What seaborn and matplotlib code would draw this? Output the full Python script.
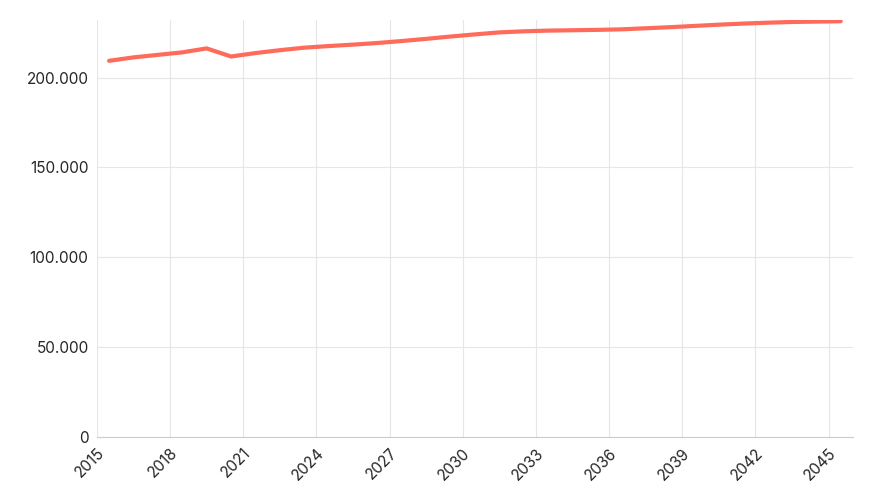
import matplotlib
matplotlib.use("Agg")
import matplotlib.pyplot as plt
import matplotlib.ticker as mticker
import seaborn as sns
import pandas as pd

years = [2015.5, 2016.5, 2017.5, 2018.5, 2019.5, 2020.5, 2021.5, 2022.5, 2023.5, 2024.5,
         2025.5, 2026.5, 2027.5, 2028.5, 2029.5, 2030.5, 2031.5, 2032.5, 2033.5, 2034.5,
         2035.5, 2036.5, 2037.5, 2038.5, 2039.5, 2040.5, 2041.5, 2042.5, 2043.5, 2044.5, 2045.5]
population = [209300, 211200, 212600, 214000, 216200, 211700, 213600, 215200, 216600, 217500,
              218300, 219200, 220300, 221500, 222800, 224000, 225100, 225700, 226100, 226300,
              226500, 226800, 227400, 228000, 228700, 229400, 230000, 230500, 230900, 231100, 231300]

df = pd.DataFrame({"year": years, "value": population})

sns.set_style("white")
plt.rcParams['font.family'] = ['Inter', 'DejaVu Sans']

fig, ax = plt.subplots(figsize=(8.73, 5.0), dpi=100)
fig.subplots_adjust(left=0.111, right=0.977, top=0.96, bottom=0.126)
sns.lineplot(data=df, x="year", y="value", color="#ff6b5a", linewidth=3, ax=ax)

ax.set_xlim(2015, 2046)
ax.set_ylim(0, 232000)
ax.set_xticks(range(2015, 2046, 3))
ax.set_yticks([0, 50000, 100000, 150000, 200000])
ax.yaxis.set_major_formatter(mticker.FuncFormatter(lambda v, p: f"{int(v):,}".replace(",", ".")))
for lbl in ax.get_xticklabels():
    lbl.set_rotation(45)
    lbl.set_ha("right")
    lbl.set_rotation_mode("anchor")
ax.tick_params(labelsize=11, length=0, pad=6)
ax.grid(True, color="#e6e6e6", linewidth=0.8)
ax.set_xlabel("")
ax.set_ylabel("")
for s in ["top", "right", "left"]:
    ax.spines[s].set_visible(False)
ax.spines["bottom"].set_color("#cccccc")

fig.savefig("out.png", dpi=100)
